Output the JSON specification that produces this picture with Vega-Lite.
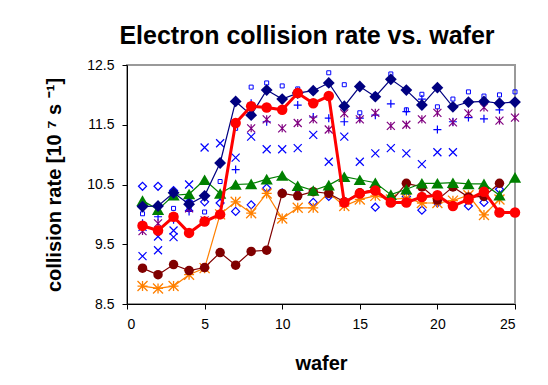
{
  "$schema": "https://vega.github.io/schema/vega-lite/v6.json",
  "width": 388,
  "height": 239,
  "autosize": "none",
  "padding": {"left": 127, "top": 65, "right": 33, "bottom": 81},
  "background": "white",
  "config": {
    "font": "Liberation Sans",
    "view": {"stroke": "#999999", "strokeWidth": 2},
    "axis": {"grid": false, "domainColor": "black", "tickColor": "black", "labelColor": "black", "titleColor": "black", "labelFont": "Liberation Sans", "titleFont": "Liberation Sans", "labelFontSize": 14, "titleFontWeight": "bold", "tickSize": 5, "domainWidth": 1}
  },
  "title": {"text": "Electron collision rate vs. wafer", "font": "Liberation Sans", "fontSize": 25, "fontWeight": "bold", "color": "black", "anchor": "middle", "dx": -14, "offset": 9},
  "datasets": {
    "navy": [
      {"w":1,"v":10.13},{"w":2,"v":10.14},{"w":3,"v":10.36},{"w":4,"v":10.17},{"w":5,"v":10.31},{"w":6,"v":10.86},{"w":7,"v":11.89},{"w":8,"v":11.66},{"w":9,"v":12.08},{"w":10,"v":11.93},{"w":11,"v":12.03},{"w":12,"v":12.07},{"w":13,"v":12.2},{"w":14,"v":11.81},{"w":15,"v":12.14},{"w":16,"v":11.97},{"w":17,"v":12.26},{"w":18,"v":12.08},{"w":19,"v":11.83},{"w":20,"v":12.12},{"w":21,"v":11.8},{"w":22,"v":11.88},{"w":23,"v":11.89},{"w":24,"v":11.86},{"w":25,"v":11.88}
    ],
    "red": [
      {"w":1,"v":9.81},{"w":2,"v":9.73},{"w":3,"v":9.96},{"w":4,"v":9.69},{"w":5,"v":9.88},{"w":6,"v":10.0},{"w":7,"v":11.53},{"w":8,"v":11.81},{"w":9,"v":11.79},{"w":10,"v":11.75},{"w":11,"v":12.03},{"w":12,"v":11.86},{"w":13,"v":11.98},{"w":14,"v":10.2},{"w":15,"v":10.35},{"w":16,"v":10.4},{"w":17,"v":10.2},{"w":18,"v":10.2},{"w":19,"v":10.29},{"w":20,"v":10.32},{"w":21,"v":10.14},{"w":22,"v":10.25},{"w":23,"v":10.38},{"w":24,"v":10.03},{"w":25,"v":10.03}
    ],
    "green": [
      {"w":1,"v":10.23},{"w":2,"v":10.08},{"w":3,"v":10.32},{"w":4,"v":10.34},{"w":5,"v":10.58},{"w":6,"v":10.35},{"w":7,"v":10.5},{"w":8,"v":10.51},{"w":9,"v":10.59},{"w":10,"v":10.65},{"w":11,"v":10.48},{"w":12,"v":10.4},{"w":13,"v":10.49},{"w":14,"v":10.63},{"w":15,"v":10.58},{"w":16,"v":10.53},{"w":17,"v":10.33},{"w":18,"v":10.42},{"w":19,"v":10.52},{"w":20,"v":10.52},{"w":21,"v":10.53},{"w":22,"v":10.51},{"w":23,"v":10.51},{"w":24,"v":10.32},{"w":25,"v":10.62}
    ],
    "maroon": [
      {"w":1,"v":9.1},{"w":2,"v":8.99},{"w":3,"v":9.16},{"w":4,"v":9.06},{"w":5,"v":9.11},{"w":6,"v":9.36},{"w":7,"v":9.15},{"w":8,"v":9.38},{"w":9,"v":9.4},{"w":10,"v":10.35},{"w":11,"v":10.31},{"w":12,"v":10.38},{"w":13,"v":10.35},{"w":14,"v":10.21},{"w":15,"v":10.36},{"w":16,"v":10.42},{"w":17,"v":10.21},{"w":18,"v":10.52},{"w":19,"v":10.46},{"w":20,"v":10.24},{"w":21,"v":10.46},{"w":22,"v":10.29},{"w":23,"v":10.3},{"w":24,"v":10.52}
    ],
    "orange": [
      {"w":1,"v":8.8},{"w":2,"v":8.76},{"w":3,"v":8.8},{"w":4,"v":8.99},{"w":5,"v":9.1},{"w":6,"v":10.0},{"w":7,"v":10.21},{"w":8,"v":10.02},{"w":9,"v":10.35},{"w":10,"v":9.93},{"w":11,"v":10.11},{"w":12,"v":10.11},{"w":13,"v":10.36},{"w":14,"v":10.14},{"w":15,"v":10.25},{"w":16,"v":10.31},{"w":17,"v":10.25},{"w":18,"v":10.27},{"w":19,"v":10.19},{"w":20,"v":10.19},{"w":21,"v":10.23},{"w":22,"v":10.32},{"w":23,"v":9.99},{"w":24,"v":10.25}
    ],
    "odiamond": [
      {"w":1,"v":10.47},{"w":2,"v":10.47},{"w":3,"v":10.4},{"w":4,"v":10.21},{"w":5,"v":10.21},{"w":6,"v":10.19},{"w":7,"v":10.05},{"w":8,"v":10.16},{"w":9,"v":10.44},{"w":10,"v":10.36},{"w":11,"v":10.42},{"w":12,"v":10.2},{"w":13,"v":10.3},{"w":14,"v":10.2},{"w":15,"v":10.36},{"w":16,"v":10.12},{"w":17,"v":10.24},{"w":18,"v":10.3},{"w":19,"v":10.07},{"w":20,"v":10.19},{"w":21,"v":10.14},{"w":22,"v":10.14},{"w":23,"v":10.2},{"w":24,"v":10.42}
    ],
    "xmark": [
      {"w":1,"v":9.3},{"w":2,"v":9.4},{"w":3,"v":9.62},{"w":4,"v":10.5},{"w":5,"v":11.12},{"w":6,"v":11.19},{"w":7,"v":10.95},{"w":8,"v":11.3},{"w":9,"v":11.09},{"w":10,"v":11.09},{"w":11,"v":11.11},{"w":12,"v":11.33},{"w":13,"v":10.88},{"w":14,"v":11.3},{"w":15,"v":10.88},{"w":16,"v":11.02},{"w":17,"v":11.11},{"w":18,"v":11.02},{"w":19,"v":10.84},{"w":20,"v":11.04},{"w":21,"v":11.04}
    ],
    "xmark2": [
      {"w":1,"v":9.79},{"w":2,"v":9.63},{"w":3,"v":9.73},{"w":4,"v":10.12}
    ],
    "plus": [
      {"w":1,"v":9.85},{"w":2,"v":9.96},{"w":3,"v":9.91},{"w":4,"v":10.05},{"w":5,"v":10.3},{"w":6,"v":10.3},{"w":7,"v":10.75},{"w":8,"v":11.86},{"w":9,"v":11.55},{"w":10,"v":11.75},{"w":11,"v":11.83},{"w":12,"v":11.63},{"w":13,"v":11.61},{"w":14,"v":11.55},{"w":15,"v":11.61},{"w":16,"v":11.66},{"w":17,"v":11.85},{"w":18,"v":11.72},{"w":19,"v":11.93},{"w":20,"v":11.42},{"w":21,"v":11.55},{"w":22,"v":11.62},{"w":23,"v":11.6},{"w":24,"v":11.75}
    ],
    "purple": [
      {"w":1,"v":9.72},{"w":2,"v":9.85},{"w":3,"v":9.95},{"w":4,"v":10.1},{"w":5,"v":9.9},{"w":8,"v":11.44},{"w":9,"v":11.59},{"w":10,"v":11.44},{"w":11,"v":11.53},{"w":12,"v":11.59},{"w":13,"v":11.42},{"w":14,"v":11.69},{"w":15,"v":11.59},{"w":16,"v":11.7},{"w":17,"v":11.48},{"w":18,"v":11.5},{"w":19,"v":11.59},{"w":20,"v":11.7},{"w":21,"v":11.54},{"w":22,"v":11.69},{"w":23,"v":11.79},{"w":24,"v":11.57},{"w":25,"v":11.62}
    ],
    "square": [
      {"w":1,"v":10.01},{"w":2,"v":10.04},{"w":3,"v":10.1},{"w":4,"v":10.1},{"w":5,"v":10.04},{"w":6,"v":10.55},{"w":7,"v":11.44},{"w":8,"v":12.13},{"w":9,"v":12.2},{"w":10,"v":12.15},{"w":11,"v":12.1},{"w":12,"v":12.05},{"w":13,"v":12.37},{"w":14,"v":12.17},{"w":15,"v":11.7},{"w":16,"v":12.0},{"w":17,"v":12.35},{"w":18,"v":11.75},{"w":19,"v":12.01},{"w":20,"v":11.8},{"w":21,"v":11.93},{"w":22,"v":12.05},{"w":23,"v":11.98},{"w":24,"v":12.0},{"w":25,"v":12.05}
    ]
  },
  "encoding": {
    "x": {"field": "w", "type": "quantitative", "scale": {"domain": [0, 25], "nice": false}, "axis": {"values": [0,5,10,15,20,25], "title": "wafer", "titleFontSize": 20, "titlePadding": 22, "labelPadding": 8}},
    "y": {"field": "v", "type": "quantitative", "scale": {"domain": [8.5, 12.5], "nice": false, "zero": false}, "axis": {"values": [8.5,9.5,10.5,11.5,12.5], "format": ".1f", "title": "collision rate [10 ⁷ s ⁻¹]", "titleFontSize": 20, "titlePadding": 22, "labelPadding": 8}}
  },
  "layer": [
    {"data": {"name": "square"}, "mark": {"type": "point", "shape": "square", "size": 16, "filled": false, "color": "#0000FF", "strokeWidth": 1, "opacity": 1}},
    {"data": {"name": "odiamond"}, "mark": {"type": "point", "shape": "diamond", "size": 64, "filled": false, "color": "#0000FF", "strokeWidth": 1.2, "opacity": 1}},
    {"data": {"name": "xmark"}, "mark": {"type": "point", "shape": "M-1,-1L1,1M-1,1L1,-1", "size": 64, "filled": false, "color": "#0000FF", "strokeWidth": 1.2, "opacity": 1}},
    {"data": {"name": "xmark2"}, "mark": {"type": "point", "shape": "M-1,-1L1,1M-1,1L1,-1", "size": 64, "filled": false, "color": "#0000FF", "strokeWidth": 1.2, "opacity": 1}},
    {"data": {"name": "plus"}, "mark": {"type": "point", "shape": "M-1,0L1,0M0,-1L0,1", "size": 64, "filled": false, "color": "#0000FF", "strokeWidth": 1.2, "opacity": 1}},
    {"data": {"name": "purple"}, "mark": {"type": "point", "shape": "M-1,-1L1,1M-1,1L1,-1M0,-1L0,1", "size": 64, "filled": false, "color": "#800080", "strokeWidth": 1.2, "opacity": 1}},
    {"data": {"name": "orange"}, "mark": {"type": "line", "color": "#FF8000", "strokeWidth": 1.2}},
    {"data": {"name": "orange"}, "mark": {"type": "point", "shape": "M-1,-1L1,1M-1,1L1,-1M0,-1L0,1M-1,0L1,0", "size": 100, "filled": false, "color": "#FF8000", "strokeWidth": 1.3, "opacity": 1}},
    {"data": {"name": "maroon"}, "mark": {"type": "line", "color": "#800000", "strokeWidth": 1.2}},
    {"data": {"name": "maroon"}, "mark": {"type": "point", "shape": "circle", "size": 90, "filled": true, "color": "#800000", "opacity": 1}},
    {"data": {"name": "green"}, "mark": {"type": "line", "color": "#008000", "strokeWidth": 1.2}},
    {"data": {"name": "green"}, "mark": {"type": "point", "shape": "triangle-up", "size": 150, "filled": true, "color": "#008000", "opacity": 1}},
    {"data": {"name": "navy"}, "mark": {"type": "line", "color": "#000080", "strokeWidth": 1.2}},
    {"data": {"name": "navy"}, "mark": {"type": "point", "shape": "diamond", "size": 140, "filled": true, "color": "#000080", "opacity": 1}},
    {"data": {"name": "red"}, "mark": {"type": "line", "color": "#FF0000", "strokeWidth": 3}},
    {"data": {"name": "red"}, "mark": {"type": "point", "shape": "circle", "size": 110, "filled": true, "color": "#FF0000", "opacity": 1}}
  ]
}
